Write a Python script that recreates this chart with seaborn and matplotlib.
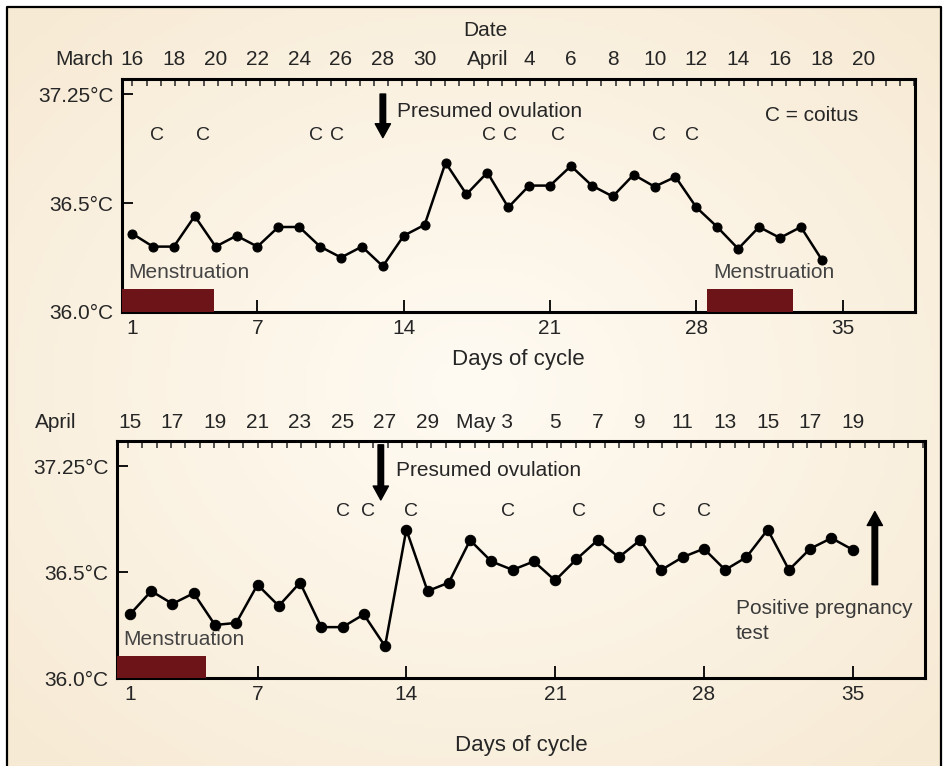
import numpy as np
import matplotlib.pyplot as plt
import seaborn as sns
from matplotlib.transforms import blended_transform_factory
from matplotlib.ticker import FixedLocator

# first cycle (March - April)
days_1 = list(range(1, 35))
temp_1 = [36.36, 36.30, 36.30, 36.44, 36.30, 36.35, 36.30, 36.39, 36.39, 36.30,
          36.25, 36.30, 36.21, 36.35, 36.40, 36.685, 36.54, 36.64, 36.48, 36.58,
          36.58, 36.67, 36.58, 36.53, 36.63, 36.575, 36.62, 36.48, 36.39, 36.29,
          36.39, 36.34, 36.39, 36.24]
coitus_1 = [2.2, 4.4, 9.8, 10.8, 18.1, 19.1, 21.4, 26.2, 27.8]
menses_1 = [(0.5, 4.9), (28.5, 32.6)]
ovulation_1 = 13
date_labels_1 = ["16", "18", "20", "22", "24", "26", "28", "30", "April",
                 "4", "6", "8", "10", "12", "14", "16", "18", "20"]
date_days_1 = [1, 3, 5, 7, 9, 11, 13, 15, 18, 20, 22, 24, 26, 28, 30, 32, 34, 36]

# second cycle (April - May)
days_2 = list(range(1, 36))
temp_2 = [36.30, 36.41, 36.35, 36.40, 36.25, 36.26, 36.44, 36.34, 36.45, 36.24,
          36.24, 36.30, 36.15, 36.70, 36.41, 36.45, 36.65, 36.55, 36.51, 36.55,
          36.46, 36.56, 36.65, 36.57, 36.65, 36.51, 36.57, 36.61, 36.51, 36.57,
          36.70, 36.51, 36.61, 36.66, 36.605]
coitus_2 = [11.0, 12.2, 14.2, 18.8, 22.1, 25.9, 28.0]
menses_2 = [(0.39, 4.6)]
ovulation_2 = 12.8
date_labels_2 = ["15", "17", "19", "21", "23", "25", "27", "29", "May 3",
                 "5", "7", "9", "11", "13", "15", "17", "19"]
date_days_2 = [1, 3, 5, 7, 9, 11, 13, 15, 19, 21, 23, 25, 27, 29, 31, 33, 35]

cycle_ticks = [1, 7, 14, 21, 28, 35]
temp_ticks = [36.0, 36.5, 37.0]
temp_labels = ["36.0°C", "36.5°C", "37.25°C"]

sns.set_theme(style="white")
plt.rcParams["font.family"] = ["Liberation Sans", "DejaVu Sans"]

fig = plt.figure(figsize=(9.46, 7.66), dpi=100)
fig.patch.set_facecolor("white")

# cream background with a soft light centre
bg = fig.add_axes([0, 0, 1, 1], zorder=-10)
yy, xx = np.mgrid[0:1:200j, 0:1:240j]
r = np.sqrt(((xx - 0.5) / 0.7) ** 2 + ((yy - 0.5) / 0.7) ** 2)
r = np.clip(r, 0, 1)
c_in = np.array([255, 251, 243]) / 255
c_out = np.array([247, 234, 212]) / 255
img = c_in[None, None, :] * (1 - r[..., None]) + c_out[None, None, :] * r[..., None]
bg.imshow(img, extent=[7, 941, 766, 7], aspect="auto")
bg.set_xlim(0, 946)
bg.set_ylim(766, 0)
bg.plot([7, 7, 941, 941], [766, 7, 7, 766], color="black", lw=1.6)
bg.axis("off")

txt_col = "#262626"
fs = 15


def draw_panel(ax, days, temps, coitus, menses, ovul, ovul_y, text_y, c_y, xlim,
               ylim, date_days, date_labels, month, month_x, date_y, msize):
    ax.set_facecolor("none")
    sns.lineplot(x=days, y=temps, ax=ax, color="black", lw=1.8, marker="o",
                 markersize=msize, markeredgecolor="black", zorder=5)
    ax.set_xlim(*xlim)
    ax.set_ylim(*ylim)
    for a, b in menses:
        ax.axvspan(a, b, ymin=0, ymax=(36.105 - ylim[0]) / (ylim[1] - ylim[0]),
                   color="#6d1418", lw=0, zorder=3)
        ax.text(a + 0.3, 36.18, "Menstruation", fontsize=fs, color="#444444",
                ha="left", va="center")
    for c in coitus:
        ax.text(c, c_y, "C", fontsize=14, color=txt_col, ha="center", va="center")
    ax.annotate("", xy=(ovul, ovul_y[1]), xytext=(ovul, ovul_y[0]),
                arrowprops=dict(facecolor="black", edgecolor="black", width=4,
                                headwidth=11, headlength=10, shrink=0))
    ax.text(ovul + 0.7, text_y, "Presumed ovulation", fontsize=fs, color=txt_col,
            ha="left", va="center")

    ax.set_xticks(cycle_ticks)
    ax.set_xticklabels([str(d) for d in cycle_ticks])
    ax.set_yticks(temp_ticks)
    ax.set_yticklabels(temp_labels)
    ax.xaxis.set_minor_locator(FixedLocator(np.arange(xlim[0] + 0.5, xlim[1], 0.68)))
    ax.tick_params(axis="x", which="major", direction="in", length=9, width=1.3,
                   bottom=True, top=False, labelsize=fs, pad=5, colors="black")
    ax.tick_params(axis="x", which="minor", direction="in", length=5, width=1.1,
                   bottom=False, top=True)
    ax.tick_params(axis="y", direction="in", length=8, width=1.3, left=True,
                   labelsize=fs, pad=6, colors="black")
    ax.xaxis.get_major_ticks()[0].tick1line.set_visible(False)
    ax.yaxis.get_major_ticks()[0].tick1line.set_visible(False)
    for lab in ax.get_xticklabels() + ax.get_yticklabels():
        lab.set_color(txt_col)
    for s in ax.spines.values():
        s.set_visible(True)
        s.set_color("black")
        s.set_linewidth(2.2)

    tr = blended_transform_factory(ax.transData, ax.transAxes)
    for d, lab in zip(date_days, date_labels):
        ha = "right" if lab.startswith("May") else "center"
        ax.text(d, date_y, lab, transform=tr, fontsize=fs, color=txt_col,
                ha=ha, va="center")
    ax.text(month_x, date_y, month, transform=tr, fontsize=fs, color=txt_col,
            ha="right", va="center")
    ax.set_xlabel("Days of cycle", fontsize=fs + 1, color=txt_col, labelpad=8)


ax1 = fig.add_axes([122 / 946, 1 - 312 / 766, (915 - 122) / 946, (312 - 79) / 766])
draw_panel(ax1, days_1, temp_1, coitus_1, menses_1, ovulation_1, (37.0, 36.80),
           36.92, 36.81, (0.52, 38.46), (36.0, 37.069), date_days_1, date_labels_1,
           "March", 0.1, 1.082, 6.5)
tr1 = blended_transform_factory(ax1.transData, ax1.transAxes)
ax1.text(17.9, 1.21, "Date", transform=tr1, fontsize=fs, color=txt_col,
         ha="center", va="center")
ax1.text(31.3, 36.90, "C = coitus", fontsize=fs, color=txt_col, ha="left", va="center")

ax2 = fig.add_axes([117 / 946, 1 - 678 / 766, (925 - 117) / 946, (678 - 441) / 766])
draw_panel(ax2, days_2, temp_2, coitus_2, menses_2, ovulation_2, (37.10, 36.84),
           36.98, 36.785, (0.39, 38.4), (36.0, 37.118), date_days_2, date_labels_2,
           "April", -1.5, 1.076, 7.5)
ax2.xaxis.labelpad = 22
ax2.annotate("", xy=(36.04, 36.785), xytext=(36.04, 36.44),
             arrowprops=dict(facecolor="black", edgecolor="black", width=4,
                             headwidth=11, headlength=10, shrink=0))
ax2.text(29.5, 36.33, "Positive pregnancy", fontsize=fs, color="#3a3a3a",
         ha="left", va="center")
ax2.text(29.5, 36.21, "test", fontsize=fs, color="#3a3a3a", ha="left", va="center")

fig.savefig("out.png", dpi=100)
